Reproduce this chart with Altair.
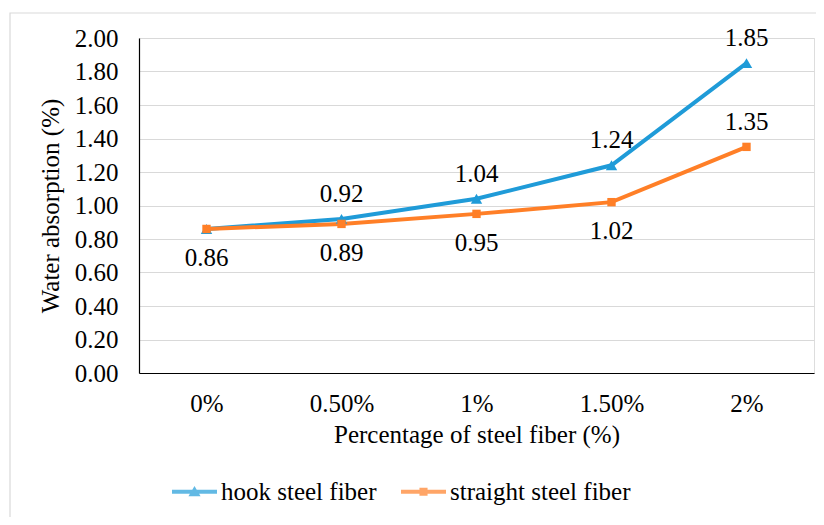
import altair as alt
import pandas as pd

categories = ["0%", "0.50%", "1%", "1.50%", "2%"]
hook = [0.86, 0.92, 1.04, 1.24, 1.85]
straight = [0.86, 0.89, 0.95, 1.02, 1.35]
series_names = ["hook steel fiber", "straight steel fiber"]
colors = ["#1F9BD8", "#FF7F27"]
y_ticks = [0.0, 0.2, 0.4, 0.6, 0.8, 1.0, 1.2, 1.4, 1.6, 1.8, 2.0]

FONT = "Liberation Serif"
FS = 25

rows = []
for i, c in enumerate(categories):
    rows.append({"cat": c, "series": series_names[0], "value": hook[i], "idx": i})
    rows.append({"cat": c, "series": series_names[1], "value": straight[i], "idx": i})
df = pd.DataFrame(rows)

# label placement (Excel-like): hook above, straight below except last above; hook at 0% hidden (overlaps)
def placement(r):
    if r["series"] == series_names[0]:
        return "none" if r["idx"] == 0 else "above"
    return "above" if r["idx"] == len(categories) - 1 else "below"

df["pos"] = df.apply(placement, axis=1)

W, H = 675, 335

color_scale = alt.Scale(domain=series_names, range=colors)
x_enc = alt.X(
    "cat:N", sort=categories, title="Percentage of steel fiber (%)",
    axis=alt.Axis(labelAngle=0, ticks=False, domainColor="#000000", domainWidth=1.2,
                  labelFont=FONT, labelFontSize=FS, labelColor="#000000", labelPadding=18,
                  titleFont=FONT, titleFontSize=FS, titleFontWeight="normal",
                  titleColor="#000000", titlePadding=6, grid=False),
)
y_enc = alt.Y(
    "value:Q", scale=alt.Scale(domain=[0, 2]), title="Water absorption (%)",
    axis=alt.Axis(values=y_ticks, format=".2f", ticks=False, domainColor="#000000",
                  domainWidth=1.2, grid=True, gridColor="#D9D9D9", gridWidth=1.2,
                  labelOverlap=False, labelFlush=False,
                  labelFont=FONT, labelFontSize=FS, labelColor="#000000", labelPadding=21,
                  titleFont=FONT, titleFontSize=FS, titleFontWeight="normal",
                  titleColor="#000000", titlePadding=11),
)

base = alt.Chart(df)

border = alt.Chart(pd.DataFrame({"a": [0]})).mark_rect(
    fill=None, stroke="#D9D9D9", strokeWidth=1.2
).encode(x=alt.value(-129), x2=alt.value(W + 40), y=alt.value(-25), y2=alt.value(H + 200))

def series_line(k):
    return base.transform_filter(alt.datum.series == series_names[k]).mark_line(
        strokeWidth=4, color=colors[k]
    ).encode(x=x_enc, y=y_enc, order=alt.Order("idx:Q"))

hook_line = series_line(0)
str_line = series_line(1)

hook_pts = base.transform_filter(alt.datum.series == series_names[0]).mark_point(
    shape="triangle-up", filled=True, size=130, opacity=1, color=colors[0]
).encode(x=x_enc, y=y_enc)

str_pts = base.transform_filter(alt.datum.series == series_names[1]).mark_point(
    shape="square", filled=True, size=70, opacity=1, color=colors[1]
).encode(x=x_enc, y=y_enc)

hook_path = "M-1,-0.09L1,-0.09L1,0.09L-1,0.09Z M0,-0.26L0.27,0.2L-0.27,0.2Z"
str_path = "M-1,-0.09L1,-0.09L1,0.09L-1,0.09Z M-0.18,-0.18L0.18,-0.18L0.18,0.18L-0.18,0.18Z"

leg = alt.Legend(
    title=None, orient="none", legendX=33, legendY=431, direction="horizontal",
    labelFont=FONT, labelFontSize=FS, labelColor="#000000", symbolSize=2025,
    labelOffset=4, columnPadding=24, padding=0, symbolStrokeWidth=0, labelLimit=400,
)
legend_layer = base.transform_filter("false").mark_point(filled=True, size=2025).encode(
    x=x_enc, y=y_enc,
    color=alt.Color("series:N", scale=color_scale, legend=leg),
    shape=alt.Shape("series:N", scale=alt.Scale(domain=series_names, range=[hook_path, str_path]), legend=leg),
)

text_style = dict(font=FONT, fontSize=FS, color="#000000", baseline="middle")
above = base.transform_filter(alt.datum.pos == "above").mark_text(dy=-25, **text_style).encode(
    x=x_enc, y=y_enc, text=alt.Text("value:Q", format=".2f"))
below = base.transform_filter(alt.datum.pos == "below").mark_text(dy=29, **text_style).encode(
    x=x_enc, y=y_enc, text=alt.Text("value:Q", format=".2f"))

chart = alt.layer(border, hook_line, str_line, hook_pts, str_pts, legend_layer, above, below).properties(
    width=W, height=H,
    autosize=alt.AutoSizeParams(type="none"),
    padding={"left": 131, "top": 30, "right": 2, "bottom": 144},
).configure_view(stroke=None).configure(background="#FFFFFF")

chart.save("out.html", embed_options={"renderer": "svg", "actions": False})
